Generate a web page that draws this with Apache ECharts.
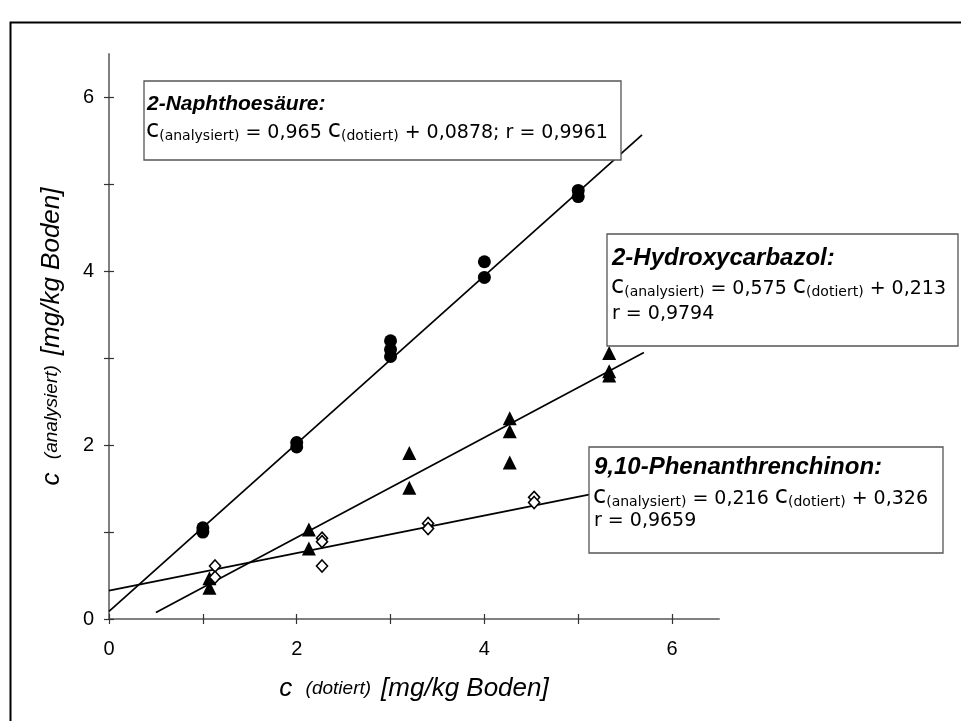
<!DOCTYPE html>
<html>
<head>
<meta charset="utf-8">
<script src="https://cdn.jsdelivr.net/npm/echarts@6/dist/echarts.min.js"></script>
<style>
html,body{margin:0;padding:0;background:#fff;}
#chart{width:961px;height:721px;}
</style>
</head>
<body>
<div id="chart"></div>
<script>
// ---- data ----
var naphX = [1, 1, 2, 2, 3, 3, 3, 4, 4, 5, 5];
var naphY = [1.05, 1.00, 2.03, 1.98, 3.20, 3.10, 3.02, 4.11, 3.93, 4.93, 4.86];
var carbX = [1.07, 1.07, 2.13, 2.13, 3.2, 3.2, 4.27, 4.27, 4.27, 5.33, 5.33, 5.33];
var carbY = [0.47, 0.36, 1.03, 0.81, 1.91, 1.51, 2.31, 2.16, 1.80, 3.06, 2.85, 2.80];
var phenX = [1.13, 1.13, 2.27, 2.27, 2.27, 3.4, 3.4, 4.53, 4.53];
var phenY = [0.61, 0.48, 0.93, 0.89, 0.61, 1.10, 1.04, 1.40, 1.34];
// regression lines as drawn: slope, intercept, x range
var fitSlope = [0.965, 0.575, 0.216];
var fitIntercept = [0.0878, -0.213, 0.326];
var fitXStart = [0, 0.5, 0];
var fitXEnd = [5.68, 5.7, 5.7];
var tickValues = [0, 1, 2, 3, 4, 5, 6];
var labelValues = [0, 2, 4, 6];
var tickLabels = ['0', '2', '4', '6'];

function pairs(xs, ys) { return xs.map(function (x, i) { return [x, ys[i]]; }); }
function fitLine(k) {
  return [fitXStart[k], fitXEnd[k]].map(function (x) { return [x, fitSlope[k] * x + fitIntercept[k]]; });
}
function labelFmt(v) {
  var i = labelValues.indexOf(v);
  return i >= 0 ? tickLabels[i] : '';
}

var FONT = 'Liberation Sans, Arial, sans-serif';
var EQF = 'DejaVu Sans, sans-serif';
var chart = echarts.init(document.getElementById('chart'), null, {renderer: 'canvas'});

var nameRich = {
  c: {fontSize: 26, fontStyle: 'italic', fontFamily: FONT, color: '#000'},
  s: {fontSize: 19, fontStyle: 'italic', fontFamily: FONT, color: '#000'},
  u: {fontSize: 26, fontStyle: 'italic', fontFamily: FONT, color: '#000'}
};

function axisBase(extra) {
  var a = {
    type: 'value', min: 0, max: 6.5, interval: 1,
    axisLine: {show: true, onZero: false, lineStyle: {color: '#808080', width: 2}},
    axisTick: {show: true, inside: false, length: 5, customValues: tickValues, lineStyle: {color: '#333', width: 1.2}},
    splitLine: {show: false},
    axisLabel: {show: true, color: '#000', fontSize: 20, fontFamily: FONT, customValues: labelValues, formatter: labelFmt}
  };
  for (var k in extra) a[k] = extra[k];
  return a;
}
var innerTick = {show: true, inside: true, length: 5, customValues: tickValues, lineStyle: {color: '#333', width: 1.2}};

var eqRich = {
  c: {fontSize: 24, fontFamily: EQF, fill: '#000', verticalAlign: 'bottom'},
  s: {fontSize: 14, fontFamily: EQF, fill: '#000', verticalAlign: 'bottom'},
  n: {fontSize: 19, fontFamily: EQF, fill: '#000', verticalAlign: 'bottom'}
};

var option = {
  backgroundColor: '#fff',
  animation: false,
  grid: {left: 109, top: 54, right: 242, bottom: 102, containLabel: false},
  xAxis: [
    axisBase({position: 'bottom',
      axisLabel: {show: true, color: '#000', fontSize: 20, fontFamily: FONT, margin: 20, customValues: labelValues, formatter: labelFmt},
      name: '{c|c}    {s|(dotiert)}   {u|[mg/kg Boden]}', nameLocation: 'middle', nameGap: 57,
      nameTextStyle: {rich: nameRich}}),
    axisBase({position: 'bottom', axisTick: innerTick, axisLabel: {show: false}, axisLine: {show: false}})
  ],
  yAxis: [
    axisBase({position: 'left',
      axisLabel: {show: true, color: '#000', fontSize: 20, fontFamily: FONT, margin: 15, customValues: labelValues, formatter: labelFmt},
      name: '{c|c}    {s|(analysiert)}   {u|[mg/kg Boden]}', nameLocation: 'middle', nameGap: 44, nameRotate: 90,
      nameTextStyle: {rich: nameRich}}),
    axisBase({position: 'left', axisTick: innerTick, axisLabel: {show: false}, axisLine: {show: false}})
  ],
  series: [
    {type: 'line', name: 'fitNaph', data: fitLine(0), symbol: 'none', lineStyle: {color: '#000', width: 1.7}, z: 2},
    {type: 'line', name: 'fitCarb', data: fitLine(1), symbol: 'none', lineStyle: {color: '#000', width: 1.7}, z: 2},
    {type: 'line', name: 'fitPhen', data: fitLine(2), symbol: 'none', lineStyle: {color: '#000', width: 1.7}, z: 2},
    {type: 'scatter', name: '2-Naphthoesäure', data: pairs(naphX, naphY), symbol: 'circle', symbolSize: 13,
      itemStyle: {color: '#000', opacity: 1}, z: 3},
    {type: 'scatter', name: '2-Hydroxycarbazol', data: pairs(carbX, carbY), symbol: 'triangle', symbolSize: 14,
      itemStyle: {color: '#000', opacity: 1}, z: 3},
    {type: 'scatter', name: '9,10-Phenanthrenchinon', data: pairs(phenX, phenY), symbol: 'diamond', symbolSize: [11, 12],
      itemStyle: {color: '#fff', borderColor: '#000', borderWidth: 1.6, opacity: 1}, z: 3}
  ],
  graphic: [
    {type: 'rect', left: 8, top: 20, z: 0, silent: true,
      shape: {width: 1000, height: 800}, style: {fill: 'none', stroke: '#000', lineWidth: 2}},
    // box 1
    {type: 'rect', z: 100, shape: {x: 144, y: 81, width: 477, height: 79},
      style: {fill: '#fff', stroke: '#555', lineWidth: 1.3}},
    {type: 'text', z: 101, x: 147, y: 115, style: {text: '2-Naphthoesäure:', fill: '#000',
      font: 'italic bold 21px ' + FONT, verticalAlign: 'bottom'}},
    {type: 'text', z: 101, x: 146, y: 143, style: {verticalAlign: 'bottom',
      text: '{c|c}{s|(analysiert)}{n| = 0,965 }{c|c}{s|(dotiert)}{n| + 0,0878; r = 0,9961}', rich: eqRich}},
    // box 2
    {type: 'rect', z: 100, shape: {x: 607, y: 234, width: 351, height: 112},
      style: {fill: '#fff', stroke: '#555', lineWidth: 1.3}},
    {type: 'text', z: 101, x: 612, y: 270, style: {text: '2-Hydroxycarbazol:', fill: '#000',
      font: 'italic bold 24px ' + FONT, verticalAlign: 'bottom'}},
    {type: 'text', z: 101, x: 611, y: 299, style: {verticalAlign: 'bottom',
      text: '{c|c}{s|(analysiert)}{n| = 0,575 }{c|c}{s|(dotiert)}{n| + 0,213}', rich: eqRich}},
    {type: 'text', z: 101, x: 612, y: 324, style: {text: 'r = 0,9794', fill: '#000',
      font: '19px ' + EQF, verticalAlign: 'bottom'}},
    // box 3
    {type: 'rect', z: 100, shape: {x: 589, y: 447, width: 354, height: 106},
      style: {fill: '#fff', stroke: '#555', lineWidth: 1.3}},
    {type: 'text', z: 101, x: 594, y: 479, style: {text: '9,10-Phenanthrenchinon:', fill: '#000',
      font: 'italic bold 24px ' + FONT, verticalAlign: 'bottom'}},
    {type: 'text', z: 101, x: 593, y: 509, style: {verticalAlign: 'bottom',
      text: '{c|c}{s|(analysiert)}{n| = 0,216 }{c|c}{s|(dotiert)}{n| + 0,326}', rich: eqRich}},
    {type: 'text', z: 101, x: 594, y: 531, style: {text: 'r = 0,9659', fill: '#000',
      font: '19px ' + EQF, verticalAlign: 'bottom'}}
  ]
};
chart.setOption(option);
</script>
</body>
</html>
